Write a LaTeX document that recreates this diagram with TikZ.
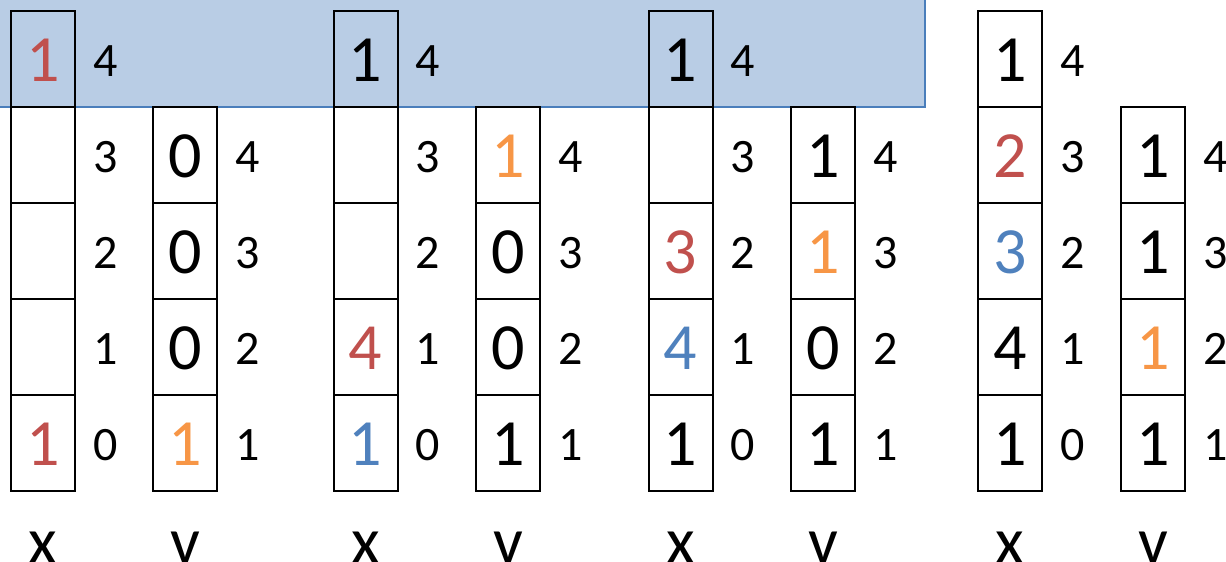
\documentclass[tikz,border=0pt]{standalone}
\usepackage{fontspec}
\setmainfont{Carlito}
\usepackage{xcolor}
\usepackage{tikz}

\definecolor{cellred}{HTML}{C0504D}
\definecolor{cellblue}{HTML}{4F81BD}
\definecolor{cellorange}{HTML}{F79646}
\definecolor{hlfill}{HTML}{B9CDE5}
\definecolor{hledge}{HTML}{4A7EBB}

\begin{document}
\begin{tikzpicture}[x=1pt, y=-1pt,
    cell/.style={draw, line width=2pt, minimum width=64pt, minimum height=96pt, inner sep=0pt,
                 text height=46pt, text depth=0pt, font=\fontsize{66}{66}\selectfont},
    idx/.style={anchor=base, font=\fontsize{48}{48}\selectfont},
    arrname/.style={anchor=base, font=\fontsize{66}{66}\selectfont}]
    \useasboundingbox (0,0) rectangle (1226,562);

    % Highlighted top row
    \fill[hlfill, draw=hledge, line width=2pt] (-10,-10) rectangle (925,106.5);

    % Step 1: x and v
    \node[cell, text=cellred] (xa4) at (43,58.5) {1};
    \node[cell] (xa3) at (43,154.5) {};
    \node[cell] (xa2) at (43,250.5) {};
    \node[cell] (xa1) at (43,346.5) {};
    \node[cell, text=cellred] (xa0) at (43,442.5) {1};
    \node[cell] (va4) at (185,154.5) {0};
    \node[cell] (va3) at (185,250.5) {0};
    \node[cell] (va2) at (185,346.5) {0};
    \node[cell, text=cellorange] (va1) at (185,442.5) {1};

    % Step 2: x and v
    \node[cell] (xb4) at (365.5,58.5) {1};
    \node[cell] (xb3) at (365.5,154.5) {};
    \node[cell] (xb2) at (365.5,250.5) {};
    \node[cell, text=cellred] (xb1) at (365.5,346.5) {4};
    \node[cell, text=cellblue] (xb0) at (365.5,442.5) {1};
    \node[cell, text=cellorange] (vb4) at (508,154.5) {1};
    \node[cell] (vb3) at (508,250.5) {0};
    \node[cell] (vb2) at (508,346.5) {0};
    \node[cell] (vb1) at (508,442.5) {1};

    % Step 3: x and v
    \node[cell] (xc4) at (680.5,58.5) {1};
    \node[cell] (xc3) at (680.5,154.5) {};
    \node[cell, text=cellred] (xc2) at (680.5,250.5) {3};
    \node[cell, text=cellblue] (xc1) at (680.5,346.5) {4};
    \node[cell] (xc0) at (680.5,442.5) {1};
    \node[cell] (vc4) at (823,154.5) {1};
    \node[cell, text=cellorange] (vc3) at (823,250.5) {1};
    \node[cell] (vc2) at (823,346.5) {0};
    \node[cell] (vc1) at (823,442.5) {1};

    % Step 4: x and v
    \node[cell] (xd4) at (1010,58.5) {1};
    \node[cell, text=cellred] (xd3) at (1010,154.5) {2};
    \node[cell, text=cellblue] (xd2) at (1010,250.5) {3};
    \node[cell] (xd1) at (1010,346.5) {4};
    \node[cell] (xd0) at (1010,442.5) {1};
    \node[cell] (vd4) at (1153,154.5) {1};
    \node[cell] (vd3) at (1153,250.5) {1};
    \node[cell, text=cellorange] (vd2) at (1153,346.5) {1};
    \node[cell] (vd1) at (1153,442.5) {1};

    % Index labels
    \foreach \s/\xi/\vi in {a/106/248, b/428/571, c/743/886, d/1073/1216} {
        \foreach \i/\yb in {4/76, 3/172, 2/268, 1/364, 0/460}
            \node[idx] (xi\s\i) at (\xi,\yb) {\i};
        \foreach \i/\yb in {4/172, 3/268, 2/364, 1/460}
            \node[idx] (vi\s\i) at (\vi,\yb) {\i};
    }

    % Array names
    \node[arrname] (xna) at (43,563) {x};
    \node[arrname] (vna) at (185,563) {v};
    \node[arrname] (xnb) at (365.5,563) {x};
    \node[arrname] (vnb) at (508,563) {v};
    \node[arrname] (xnc) at (680.5,563) {x};
    \node[arrname] (vnc) at (823,563) {v};
    \node[arrname] (xnd) at (1010,563) {x};
    \node[arrname] (vnd) at (1153,563) {v};
\end{tikzpicture}
\end{document}
